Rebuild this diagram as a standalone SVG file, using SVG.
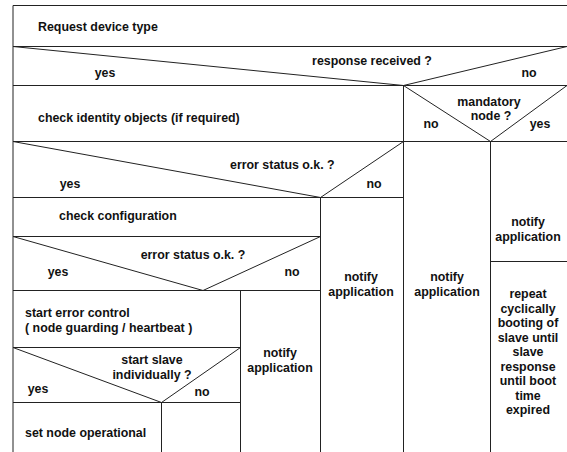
<svg xmlns="http://www.w3.org/2000/svg" width="567" height="452" viewBox="0 0 567 452">
<style>
.l{stroke:#222;stroke-width:1;fill:none}
text{font-family:"Liberation Sans",Arial,sans-serif;font-size:12.4px;font-weight:bold;fill:#111}
.c{text-anchor:middle}
</style>
<rect width="567" height="452" fill="#fff"/>
<g id="frame" class="l">
<path d="M13,452V5.5H567"/>
<path d="M13,46.5H567M13,85.5H567M13,141.5H567M13,197.5H403M13,236.5H320M13,290.5H320M13,347.5H240M13,402.5H240M490,261.5H567"/>
<path d="M403.5,85V452M490.5,141V452M320.5,197V452M240.5,290V452M161.5,402V452"/>
<path d="M13,46.5L403.5,85.5L567,46.5"/>
<path d="M403.5,85.5L490.5,141.5L567,85.5"/>
<path d="M13,141.5L320.5,197.5L403.5,141.5"/>
<path d="M13,236.5L203,290.5L320.5,236.5"/>
<path d="M13,347.5L161.5,402.5L240.5,347.5"/>
</g>
<g id="request"><text x="38" y="31">Request device type</text></g>
<g id="response"><text class="c" x="372" y="65">response received ?</text><text class="c" x="105" y="77">yes</text><text class="c" x="529" y="77">no</text></g>
<g id="identity"><text x="38" y="122">check identity objects (if required)</text></g>
<g id="mandatory"><text class="c" x="489" y="106">mandatory</text><text class="c" x="491" y="120">node ?</text><text class="c" x="431" y="128">no</text><text class="c" x="540" y="128">yes</text></g>
<g id="error1"><text x="230" y="169">error status o.k. ?</text><text class="c" x="70" y="188">yes</text><text class="c" x="374" y="188">no</text></g>
<g id="config"><text x="59" y="220">check configuration</text></g>
<g id="error2"><text class="c" x="193" y="259">error status o.k. ?</text><text class="c" x="58" y="276">yes</text><text class="c" x="292" y="276">no</text></g>
<g id="errctl"><text x="25" y="317">start error control</text><text x="25" y="332">( node guarding / heartbeat )</text></g>
<g id="slave"><text class="c" x="152" y="364">start slave</text><text class="c" x="152" y="379">individually ?</text><text class="c" x="38" y="393">yes</text><text class="c" x="202" y="396">no</text></g>
<g id="operational"><text x="25" y="437">set node operational</text></g>
<g id="notify1"><text class="c" x="280" y="357">notify</text><text class="c" x="280" y="372">application</text></g>
<g id="notify2"><text class="c" x="361" y="281">notify</text><text class="c" x="361" y="296">application</text></g>
<g id="notify3"><text class="c" x="447" y="281">notify</text><text class="c" x="447" y="296">application</text></g>
<g id="notify4"><text class="c" x="528" y="226">notify</text><text class="c" x="528" y="241">application</text></g>
<g id="repeat"><text class="c" x="528" y="298">repeat</text><text class="c" x="528" y="312.5">cyclically</text><text class="c" x="528" y="327">booting of</text><text class="c" x="528" y="341.5">slave until</text><text class="c" x="528" y="356">slave</text><text class="c" x="528" y="370.5">response</text><text class="c" x="528" y="385">until boot</text><text class="c" x="528" y="399.5">time</text><text class="c" x="528" y="414">expired</text></g>
</svg>
